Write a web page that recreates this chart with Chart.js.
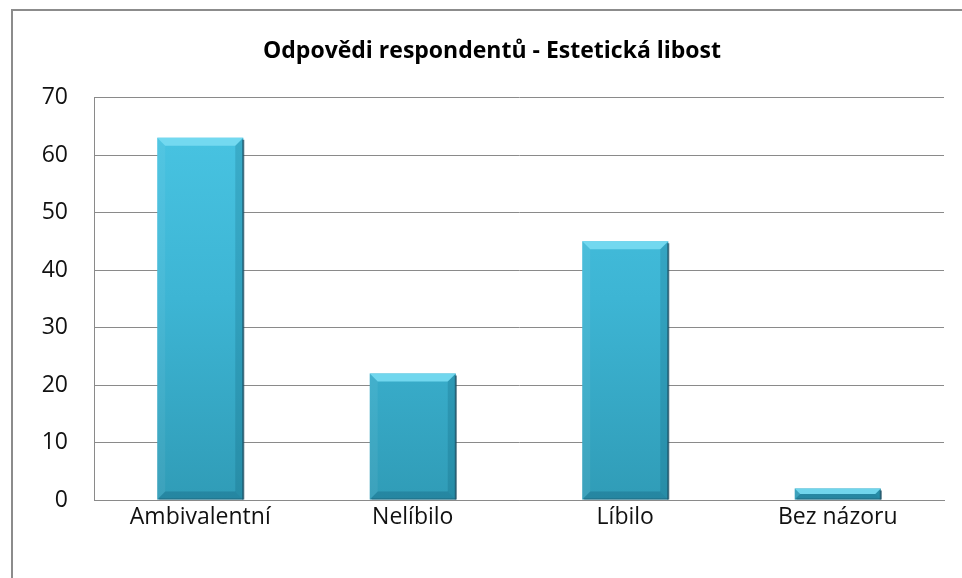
<!DOCTYPE html>
<html><head><meta charset="utf-8">
<script src="https://cdn.jsdelivr.net/npm/chart.js@4/dist/chart.umd.min.js"></script>
<style>
html,body{margin:0;padding:0;background:#fff;overflow:hidden;}
#wrap{position:absolute;left:0;top:0;width:962px;height:578px;overflow:hidden;}
#frame{position:absolute;left:11px;top:9px;width:1000px;height:620px;border:2px solid #8c8c8c;box-sizing:border-box;}
canvas{position:absolute;left:0;top:0;}
</style></head>
<body><div id="wrap"><div id="frame"></div><canvas id="c" width="962" height="578"></canvas></div>
<script>
const categories = ["Ambivalentní", "Nelíbilo", "Líbilo", "Bez názoru"];
const values = [63, 22, 45, 2];
const yTicks = [0, 10, 20, 30, 40, 50, 60, 70];
const titleText = "Odpovědi respondentů - Estetická libost";

const FONT = "'Open Sans', Lato, sans-serif";

const bevel = {
  id: 'bevel',
  afterDatasetsDraw(chart) {
    const ctx = chart.ctx;
    const meta = chart.getDatasetMeta(0);
    meta.data.forEach(el => {
      const w = el.width, l = el.x - w/2, r = el.x + w/2, t = el.y, b = el.base;
      const h = b - t;
      const d = Math.min(8, h/2);
      ctx.save();
      ctx.beginPath();
      ctx.moveTo(l, t); ctx.lineTo(r, t); ctx.lineTo(r - d, t + d); ctx.lineTo(l + d, t + d); ctx.closePath();
      ctx.fillStyle = 'rgba(120,220,242,0.9)'; ctx.fill();
      ctx.beginPath();
      ctx.moveTo(l, t); ctx.lineTo(l + d, t + d); ctx.lineTo(l + d, b - d); ctx.lineTo(l, b); ctx.closePath();
      ctx.fillStyle = 'rgba(255,255,255,0.06)'; ctx.fill();
      ctx.beginPath();
      ctx.moveTo(r, t); ctx.lineTo(r - d, t + d); ctx.lineTo(r - d, b - d); ctx.lineTo(r, b); ctx.closePath();
      ctx.fillStyle = 'rgba(0,70,95,0.18)'; ctx.fill();
      ctx.beginPath();
      ctx.moveTo(l, b); ctx.lineTo(l + d, b - d); ctx.lineTo(r - d, b - d); ctx.lineTo(r, b); ctx.closePath();
      ctx.fillStyle = 'rgba(0,60,85,0.22)'; ctx.fill();
      ctx.strokeStyle = 'rgba(25,75,95,0.75)';
      ctx.lineWidth = 2;
      ctx.beginPath(); ctx.moveTo(r, t + 2); ctx.lineTo(r, b); ctx.stroke();
      ctx.lineWidth = 1;
      ctx.strokeStyle = 'rgba(25,75,95,0.5)';
      ctx.beginPath(); ctx.moveTo(l + 2, b - 0.5); ctx.lineTo(r, b - 0.5); ctx.stroke();
      ctx.restore();
    });
  }
};

new Chart(document.getElementById('c'), {
  type: 'bar',
  data: {
    labels: categories,
    datasets: [{
      data: values,
      backgroundColor(ctx) {
        const ca = ctx.chart.chartArea;
        if (!ca) return '#3db4d3';
        const g = ctx.chart.ctx.createLinearGradient(0, ca.top, 0, ca.bottom);
        g.addColorStop(0, '#4ac6e4');
        g.addColorStop(0.5, '#3db5d4');
        g.addColorStop(1, '#309cb7');
        return g;
      },
      borderWidth: 0,
      categoryPercentage: 1,
      barPercentage: 0.405
    }]
  },
  options: {
    responsive: false,
    animation: false,
    devicePixelRatio: 1,
    layout: { padding: { left: 40, right: 18, top: 0, bottom: 0 } },
    plugins: {
      legend: { display: false },
      tooltip: { enabled: false },
      title: {
        display: true, text: titleText, color: '#000',
        font: { family: FONT, size: 23, weight: 'bold' },
        padding: { top: 38, bottom: 32 }
      }
    },
    scales: {
      x: {
        grid: { display: false, drawTicks: false },
        border: { display: true, color: '#8a8a8a', width: 1 },
        ticks: { color: '#111', font: { family: FONT, size: 23 }, padding: 4 },
        afterFit(s) { s.height = 78; }
      },
      y: {
        min: 0, max: 70,
        afterBuildTicks(s) { s.ticks = yTicks.map(v => ({ value: v })); },
        grid: { color: '#8a8a8a', drawTicks: false, lineWidth: 1 },
        border: { display: true, color: '#8a8a8a', width: 1 },
        ticks: { color: '#111', font: { family: FONT, size: 23 }, padding: 26 },
        afterFit(s) { s.width = 54; }
      }
    }
  },
  plugins: [bevel]
});
</script>
</body></html>
